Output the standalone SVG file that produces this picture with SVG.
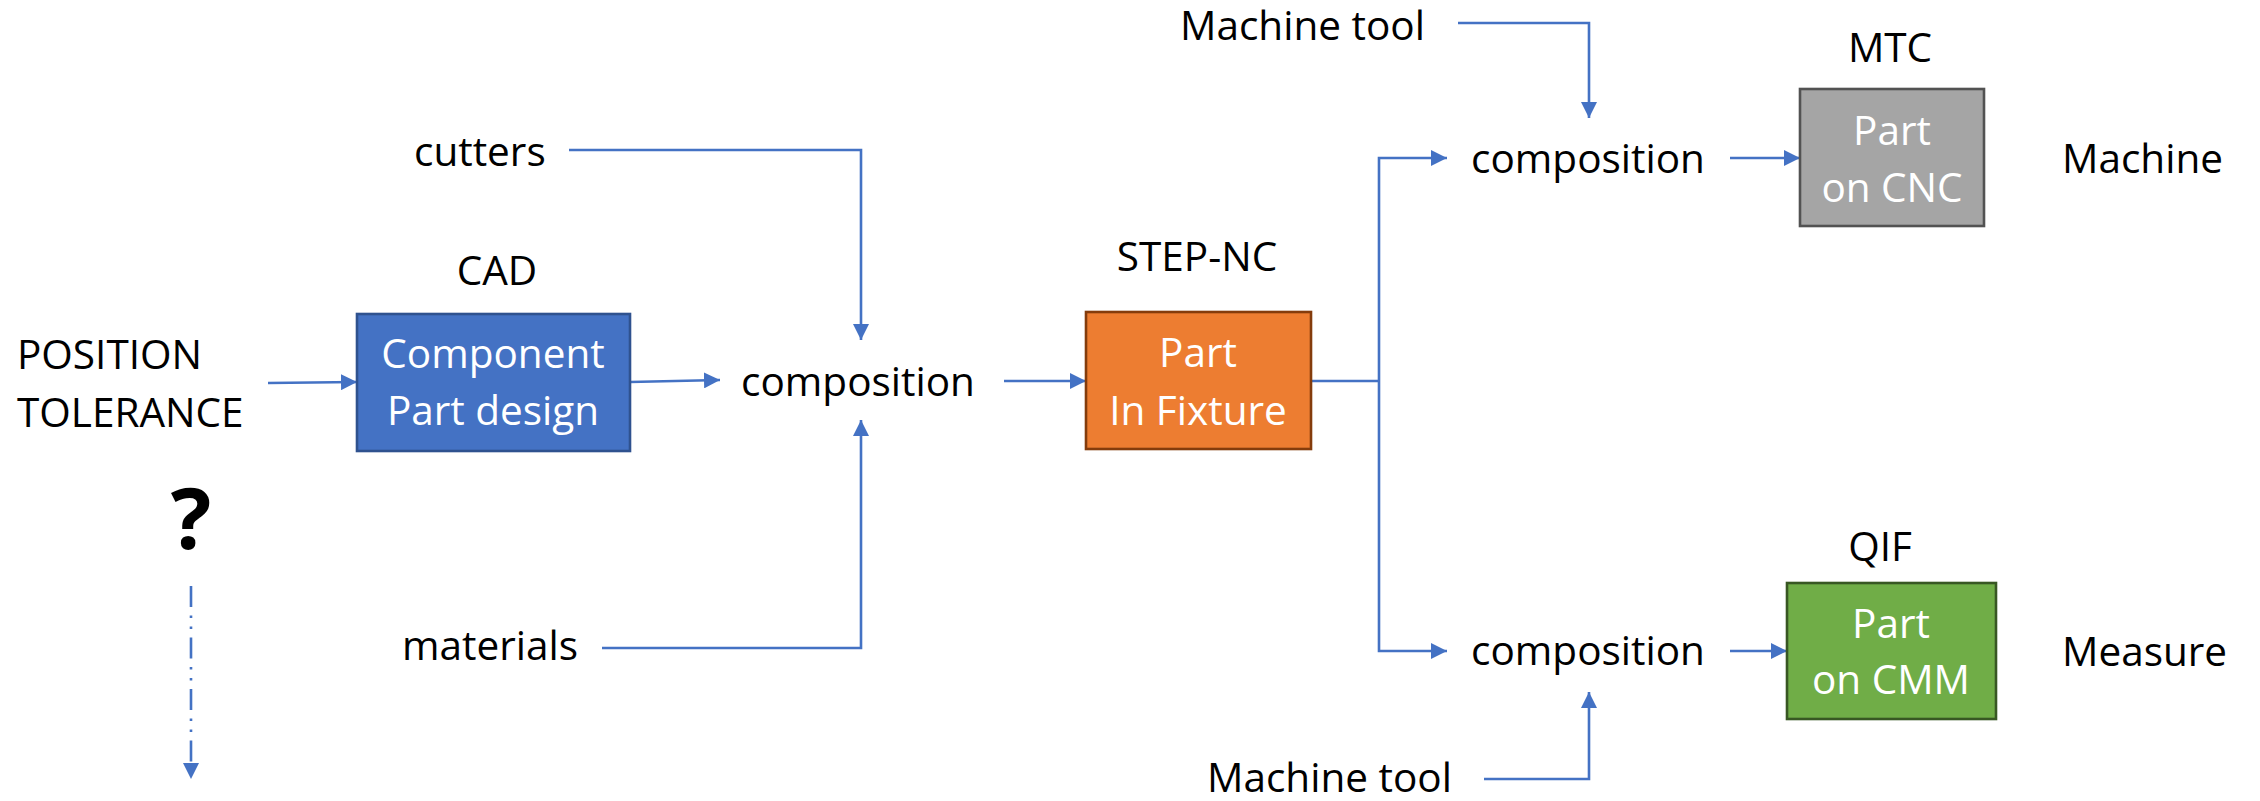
<svg xmlns="http://www.w3.org/2000/svg" width="2260" height="801" viewBox="0 0 2260 801">
  <defs>
    <marker id="arrow" viewBox="0 0 16 16" refX="16" refY="8" markerWidth="16" markerHeight="16" markerUnits="userSpaceOnUse" orient="auto">
      <path d="M0,0 L16,8 L0,16 Z" fill="#4472C4"/>
    </marker>
    <style>
      text { font-family: "Open Sans", "Noto Sans", "Liberation Sans", sans-serif; font-size: 40.5px; fill: #000; }
      .c { text-anchor: middle; }
      .w { fill: #fff; text-anchor: middle; }
      .box { stroke-width: 2.6; }
      .link { fill: none; stroke: #4472C4; stroke-width: 2.6; }
      .arr { marker-end: url(#arrow); }
    </style>
  </defs>
  <rect width="2260" height="801" fill="#fff"/>

  <!-- connectors -->
  <g id="connectors">
    <path class="link arr" d="M268,383 L357,382"/>
    <path class="link arr" d="M630,382 L720,380"/>
    <path class="link arr" d="M569,150 H861 V340"/>
    <path class="link arr" d="M602,648 H861 V420"/>
    <path class="link arr" d="M1004,381 H1086"/>
    <path class="link" d="M1311,381 H1379"/>
    <path class="link arr" d="M1379,381 V158 H1447"/>
    <path class="link arr" d="M1379,381 V651 H1447"/>
    <path class="link arr" d="M1458,23 H1589 V118"/>
    <path class="link arr" d="M1484,779 H1589 V692"/>
    <path class="link arr" d="M1730,158 H1800"/>
    <path class="link arr" d="M1730,651 H1787"/>
    <path class="link arr" d="M191,586 V779" stroke-dasharray="21 8.5 2.5 8.5 2.5 8.5"/>
  </g>

  <!-- input labels -->
  <g id="position-tolerance">
    <text x="17" y="369">POSITION</text>
    <text x="17" y="427">TOLERANCE</text>
    <text x="191" y="549" class="c" style="font-size:85px;font-weight:700">?</text>
  </g>
  <g id="cutters"><text x="414" y="166">cutters</text></g>
  <g id="materials"><text x="402" y="660">materials</text></g>
  <g id="machine-tool-top"><text x="1180" y="40">Machine tool</text></g>
  <g id="machine-tool-bottom"><text x="1207" y="792">Machine tool</text></g>

  <!-- composition steps -->
  <g id="composition-1"><text x="858" y="396" class="c">composition</text></g>
  <g id="composition-2"><text x="1588" y="173" class="c">composition</text></g>
  <g id="composition-3"><text x="1588" y="665" class="c">composition</text></g>

  <!-- CAD -->
  <g id="cad">
    <text x="497" y="285" class="c">CAD</text>
    <rect class="box" x="357" y="314" width="273" height="137" fill="#4472C4" stroke="#2F528F"/>
    <text x="493" y="368" class="w">Component</text>
    <text x="493" y="425" class="w">Part design</text>
  </g>

  <!-- STEP-NC -->
  <g id="step-nc">
    <text x="1197" y="271" class="c">STEP-NC</text>
    <rect class="box" x="1086" y="312" width="225" height="137" fill="#ED7D31" stroke="#843C0C"/>
    <text x="1198" y="367" class="w">Part</text>
    <text x="1198" y="425" class="w">In Fixture</text>
  </g>

  <!-- MTC -->
  <g id="mtc">
    <text x="1890" y="62" class="c">MTC</text>
    <rect class="box" x="1800" y="89" width="184" height="137" fill="#A5A5A5" stroke="#525252"/>
    <text x="1892" y="145" class="w">Part</text>
    <text x="1892" y="202" class="w">on CNC</text>
  </g>
  <g id="machine"><text x="2062" y="173">Machine</text></g>

  <!-- QIF -->
  <g id="qif">
    <text x="1880" y="561" class="c">QIF</text>
    <rect class="box" x="1787" y="583" width="209" height="136" fill="#70AD47" stroke="#385723"/>
    <text x="1891" y="638" class="w">Part</text>
    <text x="1891" y="694" class="w">on CMM</text>
  </g>
  <g id="measure"><text x="2062" y="666">Measure</text></g>
</svg>
